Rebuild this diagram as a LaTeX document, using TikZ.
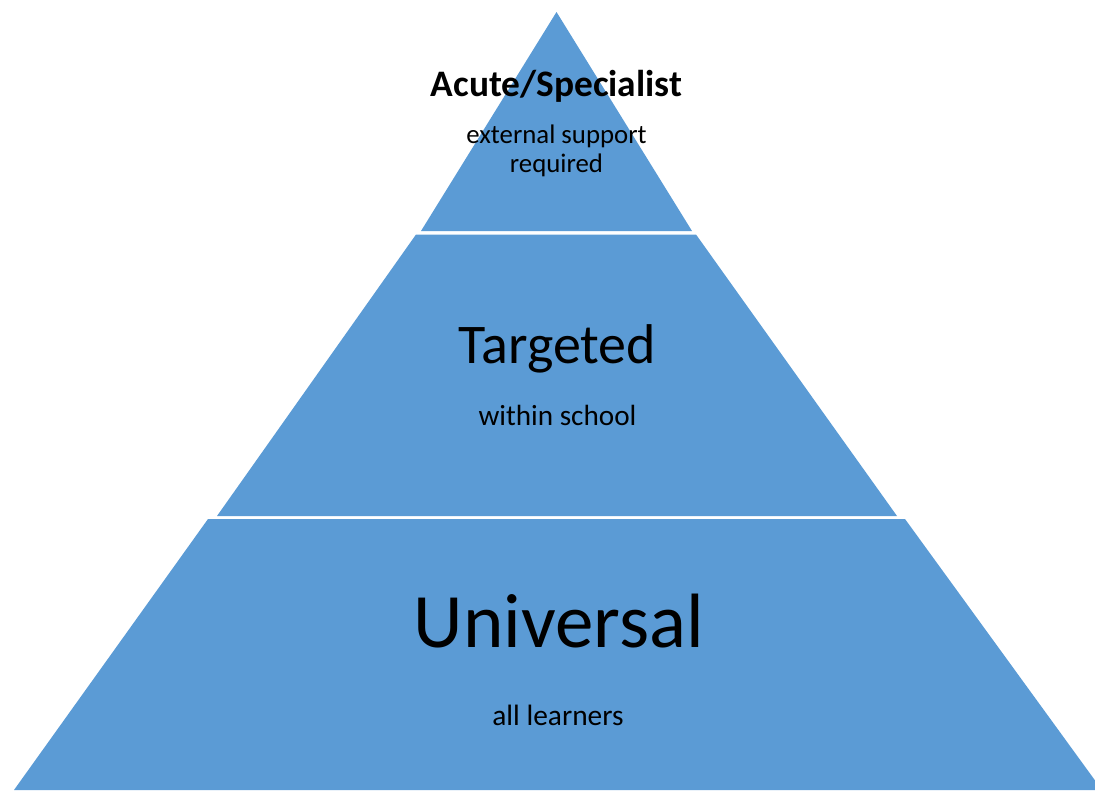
\documentclass[tikz,border=0pt]{standalone}
\usepackage{fontspec}
\setmainfont{Carlito}
\definecolor{tierblue}{HTML}{5B9BD5}
\begin{document}
\begin{tikzpicture}[x=1pt,y=-1pt,
  tier/.style={fill=tierblue, draw=none},
  label/.style={anchor=base, inner sep=0pt, text=black}]
\useasboundingbox (0,0) rectangle (1095,790);

% three tiers of the pyramid
\fill[tier] (556.5,12) -- (692,231) -- (421,231) -- cycle;
\fill[tier] (416,234.5) -- (696,234.5) -- (897,516) -- (217,516) -- cycle;
\fill[tier] (208,519) -- (905,519) -- (1102,790) -- (14,790) -- cycle;

% top tier
\node[label, font=\fontsize{37.4}{40}\selectfont\bfseries] (acute) at (556.5,96) {Acute/Specialist};
\node[label, font=\fontsize{26.8}{29}\selectfont] (ext1) at (556.5,143) {external support};
\node[label, font=\fontsize{26.8}{29}\selectfont] (ext2) at (556.5,172) {required};

% middle tier
\node[label, font=\fontsize{56}{60}\selectfont] (targeted) at (557.5,363) {Targeted};
\node[label, font=\fontsize{29.2}{32}\selectfont] (school) at (557.5,425) {within school};

% base tier
\node[label, font=\fontsize{77}{84}\selectfont] (universal) at (559,647) {Universal};
\node[label, font=\fontsize{29.4}{32}\selectfont] (learners) at (558,725) {all learners};
\end{tikzpicture}
\end{document}
